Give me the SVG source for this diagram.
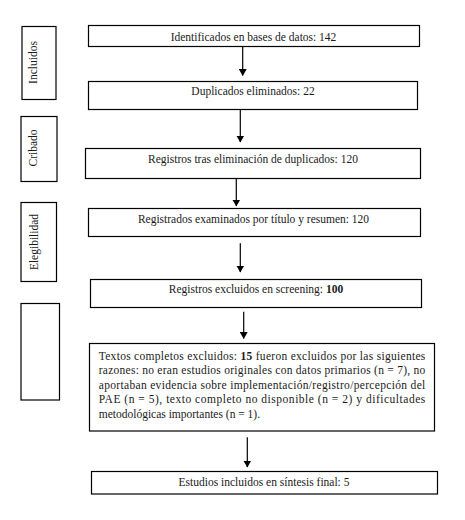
<svg xmlns="http://www.w3.org/2000/svg" width="465" height="520" viewBox="0 0 465 520">
<defs>
<style>
.box{fill:#fff;stroke:#000;stroke-width:1.2}
.t{font-family:"Liberation Serif","Times New Roman",serif;font-size:11.5px;fill:#1a1a1a}
.c{text-anchor:middle}
.b{font-weight:bold}
.ln{stroke:#000;stroke-width:1.2;fill:none}
</style>
<marker id="ah" markerWidth="7" markerHeight="8" refX="6.5" refY="4" orient="auto" markerUnits="userSpaceOnUse">
<path d="M0,0 L7,4 L0,8 Z" fill="#000"/>
</marker>
</defs>
<rect width="465" height="520" fill="#fff"/>
<g id="phase-incluidos">
<rect class="box" x="22" y="26.5" width="34" height="73"/>
<text class="t c" transform="translate(37 62.5) rotate(-90)">Incluidos</text>
</g>
<g id="phase-cribado">
<rect class="box" x="21" y="116.5" width="36" height="65"/>
<text class="t c" transform="translate(36.7 148) rotate(-90)">Cribado</text>
</g>
<g id="phase-elegibilidad">
<rect class="box" x="21" y="202.5" width="35.5" height="79"/>
<text class="t c" transform="translate(37.5 242) rotate(-90)">Elegibilidad</text>
</g>
<g id="phase-empty">
<rect class="box" x="21" y="303.5" width="38.5" height="96.5"/>
</g>
<g id="n1">
<rect class="box" x="88.5" y="25.5" width="331" height="21"/>
<text class="t c" x="253.5" y="40.5">Identificados en bases de datos: 142</text>
</g>
<g id="n2">
<rect class="box" x="88.5" y="81.5" width="329" height="28"/>
<text class="t c" x="253" y="95">Duplicados eliminados: 22</text>
</g>
<g id="n3">
<rect class="box" x="85.5" y="148.5" width="335" height="30"/>
<text class="t c" x="253" y="163">Registros tras eliminación de duplicados: 120</text>
</g>
<g id="n4">
<rect class="box" x="88.5" y="208.5" width="332" height="28"/>
<text class="t c" x="253.5" y="223">Registrados examinados por título y resumen: 120</text>
</g>
<g id="n5">
<rect class="box" x="90.5" y="279.5" width="331" height="28"/>
<text class="t c" x="256" y="293">Registros excluidos en screening: <tspan class="b">100</tspan></text>
</g>
<g id="n6">
<rect class="box" x="89.5" y="343.5" width="345" height="87.5"/>
<text class="t" x="98.7" y="359.5" textLength="326.6" lengthAdjust="spacing">Textos completos excluidos: <tspan class="b">15</tspan> fueron excluidos por las siguientes</text>
<text class="t" x="98.7" y="374" textLength="326.6" lengthAdjust="spacing">razones: no eran estudios originales con datos primarios (n = 7), no</text>
<text class="t" x="98.7" y="388.5" textLength="326.6" lengthAdjust="spacing">aportaban evidencia sobre implementación/registro/percepción del</text>
<text class="t" x="98.7" y="403" textLength="326.6" lengthAdjust="spacing">PAE (n = 5), texto completo no disponible (n = 2) y dificultades</text>
<text class="t" x="98.7" y="417.5">metodológicas importantes (n = 1).</text>
</g>
<g id="n7">
<rect class="box" x="91.5" y="471.5" width="346" height="22.5"/>
<text class="t c" x="264" y="485.5">Estudios incluidos en síntesis final: 5</text>
</g>
<g id="connectors">
<line class="ln" x1="242.7" y1="46.5" x2="242.7" y2="75.5" marker-end="url(#ah)"/>
<line class="ln" x1="240.3" y1="109.5" x2="240.3" y2="142" marker-end="url(#ah)"/>
<line class="ln" x1="236.3" y1="178.5" x2="236.3" y2="206" marker-end="url(#ah)"/>
<line class="ln" x1="240.3" y1="243.3" x2="240.3" y2="272" marker-end="url(#ah)"/>
<line class="ln" x1="243.7" y1="311.7" x2="243.7" y2="338.5" marker-end="url(#ah)"/>
<line class="ln" x1="247.3" y1="437.3" x2="247.3" y2="467" marker-end="url(#ah)"/>
</g>
</svg>
